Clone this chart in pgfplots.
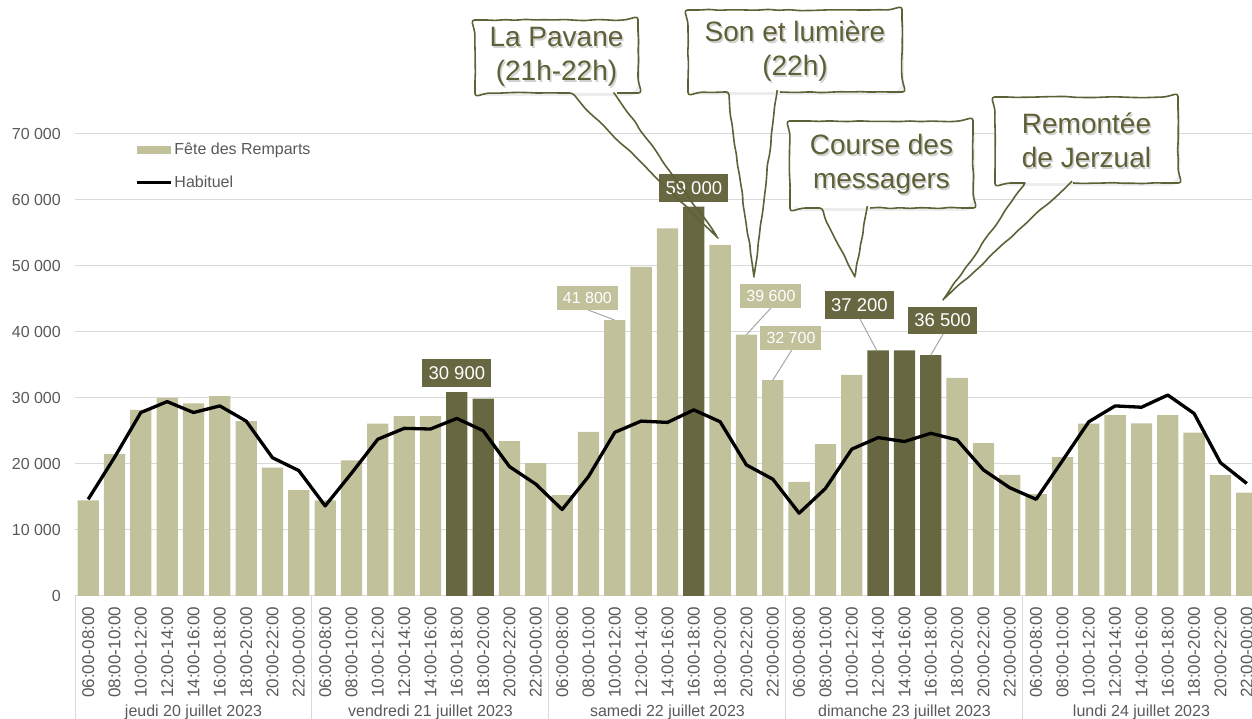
\documentclass[border=0pt]{standalone}
\usepackage{pgfplots}
\pgfplotsset{compat=1.18}
\usepackage{fontspec}
\setmainfont{Liberation Sans}
\usetikzlibrary{decorations.pathmorphing,calc}
\definecolor{light}{HTML}{C1C19C}
\definecolor{dark}{HTML}{676741}
\definecolor{olive}{HTML}{5E6137}
\definecolor{tickgray}{HTML}{595959}
\definecolor{gridgray}{HTML}{D9D9D9}
\definecolor{leader}{HTML}{A6A6A6}

\begin{document}
\begin{tikzpicture}
\useasboundingbox (0,0) rectangle (1252pt,719pt);
\clip (0,0) rectangle (1252pt,719pt);
\tikzset{
  lightlab/.style={fill=light, text=white, font=\fontsize{16}{18}\selectfont, minimum width=61pt, minimum height=24pt, inner sep=0pt},
  darklab/.style={fill=dark, text=white, font=\fontsize{18.5}{20}\selectfont, minimum width=69pt, minimum height=27.5pt, inner sep=0pt},
  daylab/.style={anchor=base, yshift=-120.5pt, font=\fontsize{16}{18}\selectfont, text=tickgray, inner sep=0pt}
}
\begin{axis}[
  at={(75pt,123pt)}, anchor=south west,
  width=1185pt, height=462pt, scale only axis,
  xmin=-0.5, xmax=44.5, ymin=0, ymax=70000,
  clip=false,
  scaled y ticks=false,
  axis x line*=bottom, axis y line*=left,
  x axis line style={gridgray, line width=1pt, -},
  y axis line style={draw=none},
  ymajorgrids, grid style={gridgray, line width=1pt},
  ytick={0,10000,20000,30000,40000,50000,60000,70000},
  yticklabels={0,10 000,20 000,30 000,40 000,50 000,60 000,70 000},
  yticklabel style={font=\fontsize{16}{18}\selectfont, text=tickgray, inner sep=0pt, anchor=east},
  yticklabel shift=14pt,
  ytick style={draw=none},
  major tick length=0pt,
  xtick={0,...,44},
  xticklabels={06:00-08:00,08:00-10:00,10:00-12:00,12:00-14:00,14:00-16:00,16:00-18:00,18:00-20:00,20:00-22:00,22:00-00:00,
               06:00-08:00,08:00-10:00,10:00-12:00,12:00-14:00,14:00-16:00,16:00-18:00,18:00-20:00,20:00-22:00,22:00-00:00,
               06:00-08:00,08:00-10:00,10:00-12:00,12:00-14:00,14:00-16:00,16:00-18:00,18:00-20:00,20:00-22:00,22:00-00:00,
               06:00-08:00,08:00-10:00,10:00-12:00,12:00-14:00,14:00-16:00,16:00-18:00,18:00-20:00,20:00-22:00,22:00-00:00,
               06:00-08:00,08:00-10:00,10:00-12:00,12:00-14:00,14:00-16:00,16:00-18:00,18:00-20:00,20:00-22:00,22:00-00:00},
  xticklabel style={font=\fontsize{17}{19}\selectfont, text=tickgray, rotate=90, anchor=east, inner sep=0pt},
  xticklabel shift=10.7pt,
  xtick style={gridgray, line width=1pt},
  extra x ticks={-0.5,8.5,17.5,26.5,35.5,44.5},
  extra x tick labels={},
  extra x tick style={major tick length=123pt, tick align=outside, grid=none},
  legend style={at={(0.0506,0.985)}, anchor=north west, draw=none, fill=none,
    font=\fontsize{16}{18}\selectfont, text=tickgray, row sep=16pt, inner sep=0pt,
    nodes={inner sep=2pt}},
  legend cell align=left,
]
% Fete des Remparts (normal bars)
\addplot[ybar, bar width=21.3pt, bar shift=0pt, fill=light, draw=none,
  legend image code/.code={\fill[light] (0pt,-4.2pt) rectangle (34pt,4.2pt);}]
coordinates {
(0,14500) (1,21500) (2,28200) (3,30000) (4,29200) (5,30300) (6,26500) (7,19450) (8,16050)
(9,14500) (10,20550) (11,26100) (12,27250) (13,27250) (16,23450) (17,20150)
(18,15300) (19,24850) (20,41800) (21,49850) (22,55700) (24,53200) (25,39600) (26,32700)
(27,17300) (28,23000) (29,33500) (33,33050) (34,23150) (35,18350)
(36,15450) (37,21050) (38,26100) (39,27400) (40,26150) (41,27400) (42,24750) (43,18300) (44,15650)
};
\addlegendentry{Fête des Remparts}
% Fete des Remparts (highlighted bars)
\addplot[ybar, bar width=21.3pt, bar shift=0pt, fill=dark, draw=none, forget plot]
coordinates {
(14,30900) (15,29900) (23,59000) (30,37200) (31,37200) (32,36500)
};
% Habituel
\addplot[black, line width=3.3pt, line join=round, mark=none,
  legend image code/.code={\draw[black, line width=3.3pt] (0pt,0pt) -- (34pt,0pt);}]
coordinates {
(0,14650) (1,21000) (2,27800) (3,29450) (4,27800) (5,28800) (6,26500) (7,20950) (8,19000)
(9,13650) (10,18600) (11,23750) (12,25400) (13,25300) (14,26900) (15,25050) (16,19600) (17,16950)
(18,13100) (19,18100) (20,24800) (21,26500) (22,26300) (23,28200) (24,26400) (25,19850) (26,17700)
(27,12550) (28,16300) (29,22250) (30,24000) (31,23400) (32,24650) (33,23650) (34,19100) (35,16400)
(36,14650) (37,20500) (38,26400) (39,28800) (40,28600) (41,30450) (42,27650) (43,20200) (44,17050)
};
\addlegendentry{Habituel}

% day labels
\node[daylab] at (axis cs:4,0) {jeudi 20 juillet 2023};
\node[daylab] at (axis cs:13,0) {vendredi 21 juillet 2023};
\node[daylab] at (axis cs:22,0) {samedi 22 juillet 2023};
\node[daylab] at (axis cs:31,0) {dimanche 23 juillet 2023};
\node[daylab] at (axis cs:40,0) {lundi 24 juillet 2023};

% leader lines
\draw[leader, line width=1pt] (axis cs:18.99,43330) -- (axis cs:20,41800);
\draw[leader, line width=1pt] (axis cs:25.93,43640) -- (axis cs:25,39600);
\draw[leader, line width=1pt] (axis cs:26.72,37270) -- (axis cs:26,32700);
\draw[leader, line width=1pt] (axis cs:29.31,41970) -- (axis cs:29.95,37200);
\draw[leader, line width=1pt] (axis cs:32.47,39700) -- (axis cs:32,36500);

% data labels
\node[lightlab] at (axis cs:18.96,45150) {41 800};
\node[lightlab] at (axis cs:25.93,45450) {39 600};
\node[lightlab] at (axis cs:26.69,39020) {32 700};
\node[darklab] at (axis cs:29.29,44090) {37 200};
\node[darklab] at (axis cs:32.45,41740) {36 500};
\node[darklab, anchor=south, yshift=5pt] at (axis cs:14,30900) {30 900};
\node[darklab, anchor=south, yshift=4.6pt] at (axis cs:23,59000) {59 000};
\end{axis}

% callouts (annotations)
\pgfmathsetseed{5}
\tikzset{
  btext/.style={inner sep=0pt, align=center, font=\fontsize{28}{34}\selectfont, text=olive},
  bshadow/.style={inner sep=0pt, align=center, font=\fontsize{28}{34}\selectfont, text=black!18}
}
% #1 x0, #2 x1, #3 y0 (bottom), #4 y1 (top), #5 b1, #6 b2, #7 tip x, #8 tip y, #9 text
\newcommand\callout[9]{%
  \fill[black, opacity=0.07, rounded corners=10pt] ({#1pt+2pt},{#3pt-3pt}) rectangle ({#2pt+2pt},{#4pt-3pt});
  \fill[white, rounded corners=10pt] (#1pt,#3pt) rectangle (#2pt,#4pt);
  \draw[olive, line width=1.6pt, line join=round, rounded corners=3pt,
        decorate, decoration={random steps, segment length=10pt, amplitude=0.7pt}]
    (#6pt,#3pt) -- ({#2pt-10pt},#3pt) arc[start angle=-90,end angle=0,radius=10pt]
    -- (#2pt,{#4pt-10pt}) arc[start angle=0,end angle=90,radius=10pt]
    -- ({#1pt+10pt},#4pt) arc[start angle=90,end angle=180,radius=10pt]
    -- (#1pt,{#3pt+10pt}) arc[start angle=180,end angle=270,radius=10pt]
    -- (#5pt,#3pt) -- (#7pt,#8pt) -- cycle;
  \node[bshadow] at ({(#1pt+#2pt)/2+1.5pt},{(#3pt+#4pt)/2-2pt}) {#9};
  \node[btext] at ({(#1pt+#2pt)/2},{(#3pt+#4pt)/2}) {#9};
}
\callout{475}{638}{626}{699}{570}{614}{718}{481}{La Pavane\\(21h-22h)}
\callout{688}{902}{627}{709}{727}{777}{754}{442}{Son et lumière\\(22h)}
\callout{790}{973}{511}{598}{820}{867}{855}{442}{Course des\\messagers}
\callout{995}{1178}{536}{622}{1025}{1070}{943}{419}{Remontée\\de Jerzual}
\end{tikzpicture}
\end{document}
